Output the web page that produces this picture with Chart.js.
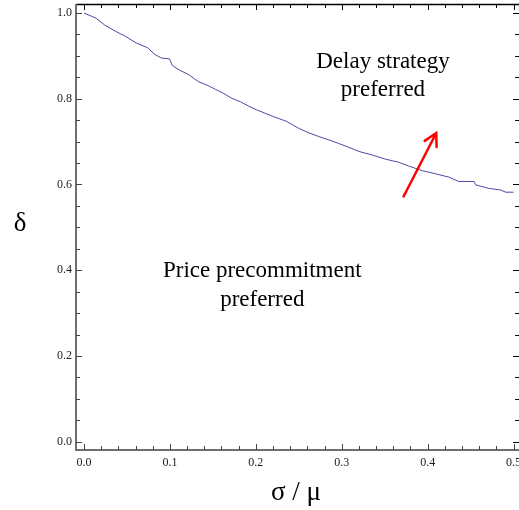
<!DOCTYPE html>
<html>
<head>
<meta charset="utf-8">
<script src="https://cdn.jsdelivr.net/npm/chart.js@4.4.1/dist/chart.umd.min.js"></script>
<style>
  html, body { margin: 0; padding: 0; background: #fff; }
  #wrap { width: 519px; height: 510px; }
</style>
</head>
<body>
<div id="wrap"><canvas id="chart"></canvas></div>
<script>
// boundary curve
const sigmaMu = [0, 0.014, 0.024, 0.037, 0.047, 0.061, 0.074, 0.082, 0.090, 0.0995,
  0.103, 0.111, 0.122, 0.133, 0.143, 0.153, 0.162, 0.172, 0.182, 0.1915,
  0.201, 0.211, 0.221, 0.236, 0.250, 0.261, 0.273, 0.285, 0.296, 0.308,
  0.320, 0.335, 0.351, 0.366, 0.378, 0.394, 0.409, 0.425, 0.436, 0.454,
  0.456, 0.471, 0.485, 0.491, 0.5];
const delta = [1.0, 0.988, 0.972, 0.957, 0.947, 0.930, 0.919, 0.904, 0.895, 0.893,
  0.877, 0.867, 0.856, 0.840, 0.832, 0.822, 0.813, 0.801, 0.793, 0.783,
  0.774, 0.766, 0.758, 0.747, 0.731, 0.721, 0.712, 0.704, 0.696, 0.687,
  0.677, 0.669, 0.659, 0.652, 0.643, 0.632, 0.625, 0.617, 0.607, 0.607,
  0.599, 0.591, 0.587, 0.582, 0.582];

const xTicks = [0, 0.1, 0.2, 0.3, 0.4, 0.5];
const yTicks = [0, 0.2, 0.4, 0.6, 0.8, 1.0];
const xMinorStep = 0.02;
const yMinorStep = 0.05;

// arrow: tail, head (data units)
const arrowFrom = [0.372, 0.572];
const arrowTo = [0.410, 0.720];

const regionLabels = [
  { lines: ['Delay strategy', 'preferred'], x: 0.348, y: 0.886 },
  { lines: ['Price precommitment', 'preferred'], x: 0.2075, y: 0.398 },
];

const SERIF = '"Liberation Serif", "DejaVu Serif", serif';

const framePlugin = {
  id: 'frame',
  afterDraw(chart) {
    const { ctx, chartArea: a, scales: { x, y } } = chart;
    ctx.save();

    // top frame line, then the grey left/bottom frame
    ctx.strokeStyle = '#000';
    ctx.lineWidth = 1.5;
    ctx.beginPath();
    ctx.moveTo(a.left, a.top + 0.5);
    ctx.lineTo(a.right + 2, a.top + 0.5);
    ctx.stroke();

    ctx.strokeStyle = '#6e6e6e';
    ctx.lineWidth = 2;
    ctx.beginPath();
    ctx.moveTo(a.left, a.top);
    ctx.lineTo(a.left, a.bottom);
    ctx.lineTo(a.right + 2, a.bottom);
    ctx.stroke();

    // inward ticks
    ctx.lineWidth = 1;
    const eps = 1e-9;
    for (let v = 0; v <= 0.5 + eps; v += xMinorStep) {
      const major = Math.abs(v * 10 - Math.round(v * 10)) < 1e-6;
      const px = Math.round(x.getPixelForValue(v)) + 0.5;
      const len = major ? 6 : 4;
      ctx.strokeStyle = '#444';
      ctx.beginPath();
      ctx.moveTo(px, a.bottom);
      ctx.lineTo(px, a.bottom - len);
      ctx.stroke();
      ctx.strokeStyle = '#000';
      ctx.beginPath();
      ctx.moveTo(px, a.top);
      ctx.lineTo(px, a.top + len);
      ctx.stroke();
    }
    for (let v = 0; v <= 1.0 + eps; v += yMinorStep) {
      const major = Math.abs(v * 5 - Math.round(v * 5)) < 1e-6;
      const py = Math.round(y.getPixelForValue(v)) + 0.5;
      const len = major ? 6 : 4;
      ctx.strokeStyle = '#444';
      ctx.beginPath();
      ctx.moveTo(a.left, py);
      ctx.lineTo(a.left + len, py);
      ctx.stroke();
      ctx.strokeStyle = '#000';
      ctx.beginPath();
      ctx.moveTo(a.right + 2, py);
      ctx.lineTo(a.right + 2 - len, py);
      ctx.stroke();
    }

    // arrow
    const x0 = x.getPixelForValue(arrowFrom[0]), y0 = y.getPixelForValue(arrowFrom[1]);
    const x1 = x.getPixelForValue(arrowTo[0]), y1 = y.getPixelForValue(arrowTo[1]);
    const ang = Math.atan2(y1 - y0, x1 - x0);
    ctx.strokeStyle = '#ff0000';
    ctx.lineWidth = 2.5;
    ctx.lineCap = 'round';
    ctx.beginPath();
    ctx.moveTo(x0, y0);
    ctx.lineTo(x1, y1);
    ctx.moveTo(x1 - 14 * Math.cos(ang - 0.5), y1 - 14 * Math.sin(ang - 0.5));
    ctx.lineTo(x1, y1);
    ctx.lineTo(x1 - 14 * Math.cos(ang + 0.5), y1 - 14 * Math.sin(ang + 0.5));
    ctx.stroke();

    // region labels
    ctx.fillStyle = '#000';
    ctx.font = '23px ' + SERIF;
    ctx.textAlign = 'center';
    ctx.textBaseline = 'middle';
    regionLabels.forEach((r) => {
      const cx = x.getPixelForValue(r.x);
      const cy = y.getPixelForValue(r.y);
      r.lines.forEach((t, i) => ctx.fillText(t, cx, cy + i * 28.5));
    });

    // axis titles
    ctx.textBaseline = 'alphabetic';
    ctx.font = '27px ' + SERIF;
    ctx.fillText('σ / μ', 296, 500);
    ctx.fillText('δ', 20, 231);

    ctx.restore();
  },
};

new Chart(document.getElementById('chart'), {
  type: 'line',
  data: {
    datasets: [{
      data: sigmaMu.map((s, i) => ({ x: s, y: delta[i] })),
      borderColor: '#4a4aa6',
      borderWidth: 1,
      pointRadius: 0,
      tension: 0,
      fill: false,
    }],
  },
  options: {
    responsive: true,
    maintainAspectRatio: false,
    animation: false,
    layout: { padding: { top: 4, right: 2, left: 0, bottom: 0 } },
    plugins: { legend: { display: false }, tooltip: { enabled: false } },
    scales: {
      x: {
        type: 'linear',
        min: -0.0093,
        max: 0.504,
        afterBuildTicks: (s) => { s.ticks = xTicks.map((v) => ({ value: v })); },
        afterFit: (s) => { s.height = 60; s.paddingLeft = 0; s.paddingRight = 0; },
        grid: { display: false, drawTicks: false },
        border: { display: false },
        ticks: {
          padding: 6,
          maxRotation: 0,
          color: '#222',
          font: { family: SERIF, size: 12 },
          callback: (v) => Number(v).toFixed(1),
        },
      },
      y: {
        type: 'linear',
        min: -0.0194,
        max: 1.021,
        afterBuildTicks: (s) => { s.ticks = yTicks.map((v) => ({ value: v })); },
        afterFit: (s) => { s.width = 76; s.paddingTop = 0; s.paddingBottom = 0; },
        grid: { display: false, drawTicks: false },
        border: { display: false },
        ticks: {
          padding: 4,
          color: '#222',
          font: { family: SERIF, size: 12 },
          callback: (v) => Number(v).toFixed(1),
        },
      },
    },
  },
  plugins: [framePlugin],
});
</script>
</body>
</html>
